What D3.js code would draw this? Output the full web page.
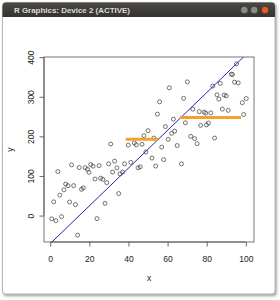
<!DOCTYPE html>
<html>
<head>
<meta charset="utf-8">
<script src="https://cdn.jsdelivr.net/npm/d3@7"></script>
<style>
  body { margin: 0; background: #fff; }
  text { font-family: "Liberation Sans", Arial, sans-serif; }
</style>
</head>
<body>
<svg id="chart" width="280" height="300"></svg>
<script>
// scatter points
const xVals = [95.2, 92.6, 93.2, 70.1, 83.1, 86.9, 94.2, 96.1, 60.9, 68.2,
  85.3, 86.2, 88.9, 90.0, 55.9, 100.2, 98.2, 54.8, 72.9, 76.2,
  78.7, 79.5, 82.1, 88.0, 91.0, 98.9, 63.0, 69.1, 76.9, 79.9,
  80.9, 58.9, 50.0, 47.9, 63.6, 62.1, 60.3, 71.8, 73.8, 75.1,
  84.0, 53.0, 64.9, 46.9, 57.0, 52.0, 58.0, 53.9, 67.1, 48.9,
  30.9, 39.9, 43.0, 44.0, 10.9, 14.8, 17.9, 19.0, 20.7, 21.9,
  25.0, 29.9, 32.9, 38.0, 41.2, 34.1, 44.9, 46.0, 3.9, 19.8,
  31.9, 35.7, 37.0, 22.9, 25.8, 26.9, 28.9, 7.9, 9.1, 12.0,
  7.0, 16.0, 16.9, 4.9, 1.8, 9.9, 12.9, 28.0, 35.0, 5.8,
  0.8, 2.9, 23.9, 14.0];
const yVals = [383.1, 357.1, 356.0, 337.6, 327.0, 333.8, 336.9, 335.1, 322.5, 296.0,
  304.8, 294.2, 304.3, 302.3, 287.1, 295.5, 285.1, 256.1, 268.7, 262.4,
  261.1, 258.6, 259.3, 268.7, 265.7, 255.1, 243.4, 234.1, 227.8, 229.0,
  233.6, 224.7, 214.4, 201.8, 213.1, 207.6, 192.4, 200.0, 194.4, 181.6,
  195.7, 195.7, 176.8, 179.8, 172.7, 145.2, 141.2, 125.0, 130.6, 160.4,
  180.6, 177.8, 183.1, 178.5, 128.0, 121.2, 121.0, 116.7, 128.8, 124.7,
  126.0, 130.6, 137.4, 130.6, 134.3, 120.5, 120.5, 123.0, 111.1, 109.1,
  109.8, 105.3, 109.6, 92.2, 94.4, 91.4, 83.1, 79.5, 75.5, 75.5,
  64.9, 66.2, 69.9, 51.5, 34.6, 34.1, 27.8, 30.8, 55.6, -2.8,
  -8.3, -12.9, -7.8, -49.5];

// orange step segments
const stepStart = [38.6, 66.3];
const stepEnd = [55.2, 97.6];
const stepLevel = [192.9, 247.5];

// blue fitted line
const fitIntercept = -71;
const fitSlope = 4.77;

const xTicks = [0, 20, 40, 60, 80, 100];
const yTicks = [0, 100, 200, 300, 400];

const svg = d3.select("#chart");
const box = { left: 44, right: 254, top: 57, bottom: 242 };

// --- window chrome ---
const defs = svg.append("defs");
const grad = defs.append("linearGradient").attr("id", "bar").attr("x1", 0).attr("x2", 0).attr("y1", 0).attr("y2", 1);
grad.append("stop").attr("offset", "0%").attr("stop-color", "#4a4944");
grad.append("stop").attr("offset", "100%").attr("stop-color", "#34332f");
const blur = defs.append("filter").attr("id", "shadow").attr("x", "-10%").attr("y", "-10%").attr("width", "120%").attr("height", "120%");
blur.append("feGaussianBlur").attr("stdDeviation", 1.5);
defs.append("clipPath").attr("id", "plotclip")
  .append("rect").attr("x", box.left).attr("y", box.top)
  .attr("width", box.right - box.left).attr("height", box.bottom - box.top);

svg.append("rect").attr("x", 3.5).attr("y", 4).attr("width", 273).attr("height", 292)
  .attr("rx", 3).attr("fill", "#9a9a9a").attr("filter", "url(#shadow)");
svg.append("rect").attr("x", 2.5).attr("y", 2.5).attr("width", 272.5).attr("height", 291.5)
  .attr("rx", 3).attr("fill", "#fff").attr("stroke", "#b5b5b5");
svg.append("path")
  .attr("d", "M2.5,17 V6 Q2.5,2.5 6,2.5 H271.5 Q275,2.5 275,6 V17 Z")
  .attr("fill", "url(#bar)");
svg.append("text").attr("x", 14).attr("y", 13)
  .attr("font-size", 8).attr("font-weight", "bold").attr("fill", "#dfdbd2")
  .attr("textLength", 116).attr("lengthAdjust", "spacingAndGlyphs")
  .text("R Graphics: Device 2 (ACTIVE)");
const buttons = [{ cx: 244.3, fill: "#8c8a85" }, { cx: 254.2, fill: "#8c8a85" }, { cx: 265, fill: "#e4582c" }];
svg.selectAll("circle.btn").data(buttons).join("circle").attr("class", "btn")
  .attr("cx", d => d.cx).attr("cy", 10).attr("r", 3.8)
  .attr("fill", d => d.fill).attr("stroke", "#2a2926").attr("stroke-width", 0.6);

// --- scales (R style 4% padding) ---
function padded(ext) {
  const r = ext[1] - ext[0];
  return [ext[0] - 0.04 * r, ext[1] + 0.04 * r];
}
const x = d3.scaleLinear().domain(padded(d3.extent(xVals))).range([box.left, box.right]);
const y = d3.scaleLinear().domain(padded(d3.extent(yVals))).range([box.bottom, box.top]);

// axes
const xAxis = svg.append("g").attr("transform", `translate(0,${box.bottom})`)
  .call(d3.axisBottom(x).tickValues(xTicks).tickSize(4.5).tickPadding(4).tickSizeOuter(0));
const yAxis = svg.append("g").attr("transform", `translate(${box.left},0)`)
  .call(d3.axisLeft(y).tickValues(yTicks).tickSize(4.5).tickSizeOuter(0));
[xAxis, yAxis].forEach(g => {
  g.select(".domain").remove();
  g.selectAll("line").attr("stroke", "#444").attr("stroke-width", 0.8);
  g.selectAll("text").attr("font-size", 8.5).attr("fill", "#222")
    .attr("font-family", "Liberation Sans, Arial, sans-serif");
});
xAxis.selectAll("text").attr("dy", null).attr("y", 19.5);
yAxis.selectAll("text")
  .attr("x", null).attr("dy", null)
  .attr("text-anchor", "middle")
  .attr("transform", d => `translate(${-9.7},${0}) rotate(-90)`);

// axis lines spanning first to last tick
svg.append("line").attr("x1", x(0)).attr("x2", x(100)).attr("y1", box.bottom).attr("y2", box.bottom)
  .attr("stroke", "#444").attr("stroke-width", 0.8);
svg.append("line").attr("y1", y(0)).attr("y2", y(400)).attr("x1", box.left).attr("x2", box.left)
  .attr("stroke", "#444").attr("stroke-width", 0.8);

// box
svg.append("rect").attr("x", box.left).attr("y", box.top)
  .attr("width", box.right - box.left).attr("height", box.bottom - box.top)
  .attr("fill", "none").attr("stroke", "#555").attr("stroke-width", 0.8);

// axis titles
svg.append("text").attr("x", (box.left + box.right) / 2).attr("y", 280.5)
  .attr("text-anchor", "middle").attr("font-size", 8.5).attr("fill", "#222").text("x");
svg.append("text").attr("transform", `translate(12.5,${(box.top + box.bottom) / 2}) rotate(-90)`)
  .attr("text-anchor", "middle").attr("font-size", 8.5).attr("fill", "#222").text("y");

// points
const pts = d3.range(xVals.length);
svg.append("g").selectAll("circle").data(pts).join("circle")
  .attr("cx", i => x(xVals[i])).attr("cy", i => y(yVals[i])).attr("r", 2)
  .attr("fill", "none").attr("stroke", "#3a3a3a").attr("stroke-width", 0.7);

// fitted line, clipped to the plot region
const xd = x.domain();
svg.append("line").attr("clip-path", "url(#plotclip)")
  .attr("x1", x(xd[0])).attr("y1", y(fitIntercept + fitSlope * xd[0]))
  .attr("x2", x(xd[1])).attr("y2", y(fitIntercept + fitSlope * xd[1]))
  .attr("stroke", "#2626b0").attr("stroke-width", 1);

// step segments
svg.append("g").selectAll("line").data(d3.range(stepLevel.length)).join("line")
  .attr("x1", i => x(stepStart[i])).attr("x2", i => x(stepEnd[i]))
  .attr("y1", i => y(stepLevel[i])).attr("y2", i => y(stepLevel[i]))
  .attr("stroke", "#f2a22e").attr("stroke-width", 3);
</script>
</body>
</html>
